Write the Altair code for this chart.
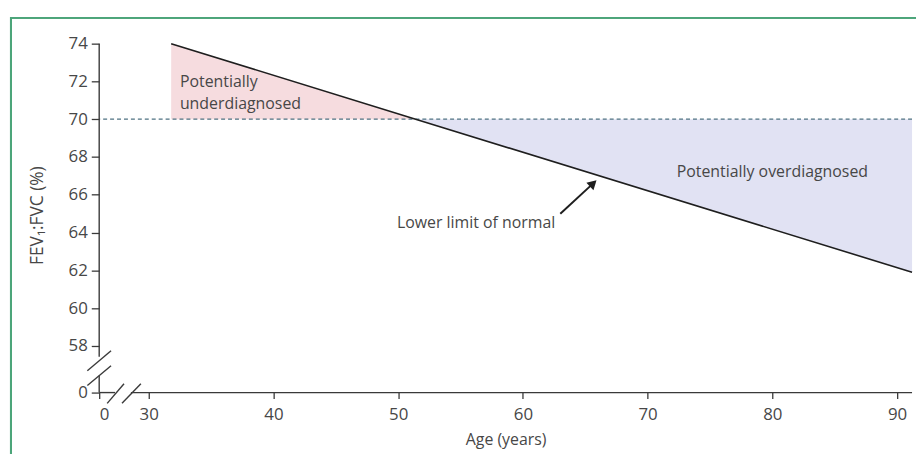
import altair as alt
import pandas as pd

# ---- data ----
age = [31.8, 51.4, 91.2]          # age (years) along the lower-limit-of-normal line
lln = [74.0, 70.0, 61.9]          # FEV1:FVC lower limit of normal (%)
threshold = 70                    # fixed-ratio cut-off (%)
x_ticks = [30, 40, 50, 60, 70, 80, 90]
y_ticks = [58, 60, 62, 64, 66, 68, 70, 72, 74]

under_text = ["Potentially", "underdiagnosed"]
under_age = [32.5, 32.5]
under_val = [71.95, 70.8]
over_text = ["Potentially overdiagnosed"]
over_age = [80.0]
over_val = [67.2]
lln_text = ["Lower limit of normal"]
lln_age = [62.6]
lln_val = [64.5]
arrow_age = [63.0, 65.55]
arrow_val = [65.0, 66.55]

# broken-axis scale ends (the "0" positions)
XMIN, XMAX = 26.03, 91.2
YMIN, YMAX = 55.53, 74.0

FONT = "Open Sans"
TXT = "#474747"
AX = "#3a3a3a"

df = pd.DataFrame({"age": age, "lln": lln})

xs = alt.Scale(domain=[XMIN, XMAX], nice=False, zero=False)
ys = alt.Scale(domain=[YMIN, YMAX], nice=False, zero=False)

AXX = alt.Axis(
    values=[XMIN] + x_ticks, labelExpr="datum.value < 29 ? '0' : datum.label",
    title="Age (years)", domain=False, grid=False, tickSize=6, labelPadding=8,
    titlePadding=9, titleFontSize=16, labelOverlap=False,
    titleFontWeight="normal")
AXY = alt.Axis(
    values=[YMIN] + y_ticks, labelExpr="datum.value < 57 ? '0' : datum.label",
    title="FEV\u2081:FVC (%)", domain=False, grid=False, tickSize=8, labelPadding=4,
    labelOverlap=False, labelBaseline="middle",
    titleX=-62, titleY=173, titleBaseline="middle", titleFontSize=17.5,
    titleFontWeight="normal")

def X(f):
    return alt.X(f, scale=xs, axis=AXX)

def Y(f):
    return alt.Y(f, scale=ys, axis=AXY)

base = alt.Chart(df)

pink = base.transform_filter(alt.datum.age <= 51.4).mark_area(
    color="#f6dcdf", opacity=1
).encode(x=X("age:Q"), y=Y("lln:Q"), y2=alt.datum(threshold))

blue = base.transform_filter(alt.datum.age >= 51.4).mark_area(
    color="#e1e2f3", opacity=1
).encode(x=X("age:Q"), y=Y("lln:Q"), y2=alt.datum(threshold))

dash = alt.Chart(pd.DataFrame({"t": [threshold]})).mark_rule(
    color="#4f7282", strokeDash=[4, 3], strokeWidth=1.2
).encode(y=Y("t:Q"))

line = base.mark_line(color="#1e1e1e", strokeWidth=1.6).encode(x=X("age:Q"), y=Y("lln:Q"))

# broken axis lines and break slashes (in data units)
axis_segs = pd.DataFrame({
    "x1": [XMIN, XMIN, XMIN, 28.57, 25.08, 25.08, 26.67, 27.86],
    "x2": [XMIN, XMIN, 27.30, XMAX, 26.98, 26.98, 28.02, 29.37],
    "y1": [YMAX, 56.42, YMIN, YMIN, 56.69, 55.90, 54.96, 54.96],
    "y2": [57.42, YMIN, YMIN, YMIN, 57.74, 56.95, 56.00, 56.00],
})
axes = alt.Chart(axis_segs).mark_rule(color=AX, strokeWidth=1.4).encode(
    x=X("x1:Q"), x2="x2:Q", y=Y("y1:Q"), y2="y2:Q")

def txt(texts, ages, vals, align):
    d = pd.DataFrame({"t": texts, "a": ages, "v": vals})
    return alt.Chart(d).mark_text(
        align=align, baseline="middle", font=FONT, fontSize=16, color=TXT
    ).encode(x=X("a:Q"), y=Y("v:Q"), text="t:N")

t_under = txt(under_text, under_age, under_val, "left")
t_over = txt(over_text, over_age, over_val, "center")
t_lln = txt(lln_text, lln_age, lln_val, "right")

arr_df = pd.DataFrame({"a1": [arrow_age[0]], "a2": [arrow_age[1]],
                       "v1": [arrow_val[0]], "v2": [arrow_val[1]]})
arr_line = alt.Chart(arr_df).mark_rule(color="#1e1e1e", strokeWidth=2).encode(
    x=X("a1:Q"), x2="a2:Q", y=Y("v1:Q"), y2="v2:Q")
arr_head = alt.Chart(arr_df).mark_point(
    shape="triangle", angle=47, size=110, filled=True, color="#1e1e1e", opacity=1
).encode(x=X("a2:Q"), y=Y("v2:Q"))

border_l = alt.Chart(df).mark_rule(color="#4ca57a", strokeWidth=2).encode(
    x=alt.value(-89), y=alt.value(-26), y2=alt.value(430))
border_t = alt.Chart(df).mark_rule(color="#4ca57a", strokeWidth=2).encode(
    x=alt.value(-90), x2=alt.value(840), y=alt.value(-26))

chart = alt.layer(
    pink, blue, dash, line, axes, t_under, t_over, t_lln,
    arr_line, arr_head, border_l, border_t
).properties(
    width=820, height=352,
    autosize=alt.AutoSizeParams(type="none"),
    padding={"left": 92, "top": 34, "right": 4, "bottom": 60},
).configure_view(stroke=None).configure_axis(
    grid=False, labelFont=FONT, labelFontSize=17, labelColor=TXT,
    titleFont=FONT, titleFontSize=16, titleColor=TXT,
    tickColor=AX, tickWidth=1.3,
)

chart.save("out.html", embed_options={"renderer": "svg", "actions": False})
